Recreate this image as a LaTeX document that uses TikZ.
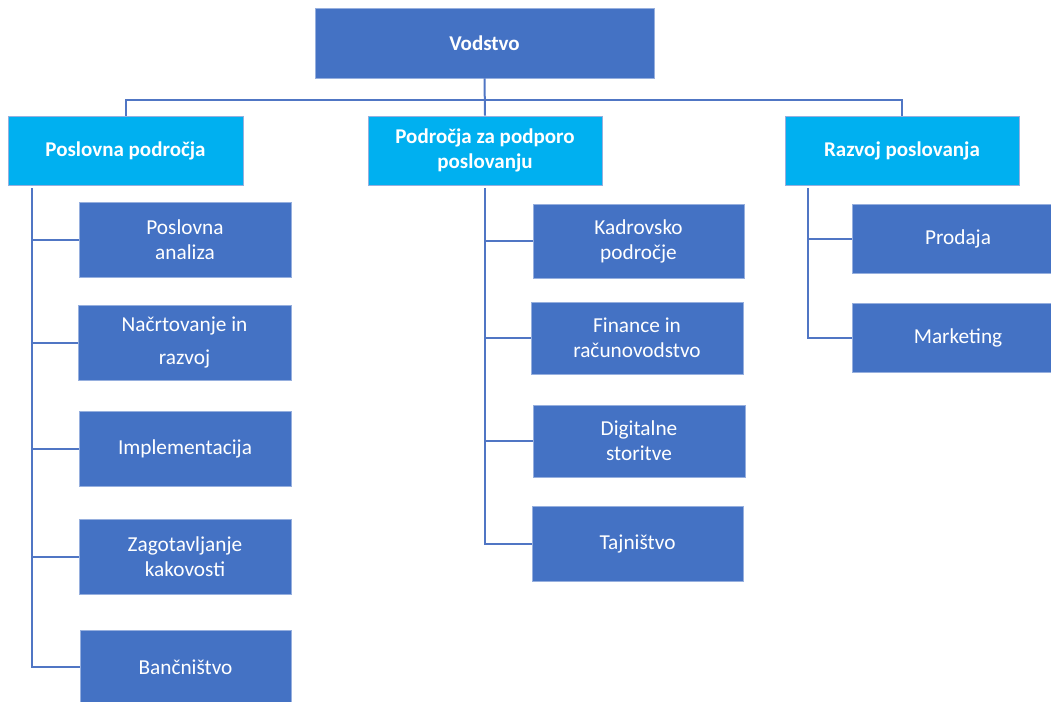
\documentclass[tikz,border=0pt]{standalone}
\usepackage{fontspec}
\setmainfont{Carlito}
\definecolor{dblue}{RGB}{68,114,196}
\definecolor{lblue}{RGB}{0,176,240}
\definecolor{edge}{RGB}{150,175,222}
\definecolor{lineblue}{RGB}{80,118,196}
\tikzset{
  boxbase/.style={rectangle, draw=edge, line width=0.8pt, text=white, align=center, inner sep=0pt,
    font=\fontsize{21.3}{25}\selectfont},
  topbox/.style={boxbase, fill=dblue, font=\fontsize{21}{25}\selectfont\bfseries},
  midbox/.style={boxbase, fill=lblue, font=\fontsize{21}{25}\selectfont\bfseries},
  leafbox/.style={boxbase, fill=dblue},
  conn/.style={draw=lineblue, line width=2pt},
}
\begin{document}
\begin{tikzpicture}[x=1pt,y=-1pt]
\useasboundingbox (0,0) rectangle (1051,701);
% top
\node[topbox, minimum width=339, minimum height=70] (vod) at (484.5,43) {Vodstvo};
% second level
\node[midbox, minimum width=235, minimum height=69] (pos) at (125.5,150.5) {Poslovna področja};
\node[midbox, minimum width=234, minimum height=69] (pod) at (485,150.5) {Področja za podporo\\poslovanju};
\node[midbox, minimum width=234, minimum height=69] (raz) at (902,150.5) {Razvoj poslovanja};
% left column
\node[leafbox, minimum width=212, minimum height=75] (pa) at (185,239.5) {Poslovna\\analiza};
\node[leafbox, minimum width=213, minimum height=75, font=\fontsize{21.3}{33}\selectfont] (nr) at (184.5,342.5) {Načrtovanje in\\razvoj};
\node[leafbox, minimum width=212, minimum height=75] (im) at (185,448.5) {Implementacija};
\node[leafbox, minimum width=212, minimum height=75] (zk) at (185,556.5) {Zagotavljanje\\kakovosti};
\node[leafbox, minimum width=211, minimum height=74] (bn) at (185.5,667) {Bančništvo};
% middle column
\node[leafbox, minimum width=211, minimum height=74] (ka) at (638.5,241) {Kadrovsko\\področje};
\node[leafbox, minimum width=212, minimum height=72] (fi) at (637,338) {Finance in\\računovodstvo};
\node[leafbox, minimum width=212, minimum height=72] (di) at (639,441) {Digitalne\\storitve};
\node[leafbox, minimum width=211, minimum height=75] (ta) at (637.5,543.5) {Tajništvo};
% right column
\node[leafbox, minimum width=212, minimum height=69] (pr) at (958,238.5) {Prodaja};
\node[leafbox, minimum width=212, minimum height=69] (ma) at (958,337.5) {Marketing};
% connectors
\coordinate (hb) at (485,100);
\coordinate (lt) at (32,188);
\coordinate (mt) at (485,188);
\coordinate (rt) at (808,188);
\draw[conn] (vod.south) -- (pod.north);
\draw[conn] (pos.north) -- (pos.north |- hb) -| (raz.north);
\draw[conn] (lt) |- (pa.west);
\draw[conn] (lt) |- (nr.west);
\draw[conn] (lt) |- (im.west);
\draw[conn] (lt) |- (zk.west);
\draw[conn] (lt) |- (bn.west);
\draw[conn] (mt) |- (ka.west);
\draw[conn] (mt) |- (fi.west);
\draw[conn] (mt) |- (di.west);
\draw[conn] (mt) |- (ta.west);
\draw[conn] (rt) |- (pr.west);
\draw[conn] (rt) |- (ma.west);
\end{tikzpicture}
\end{document}
